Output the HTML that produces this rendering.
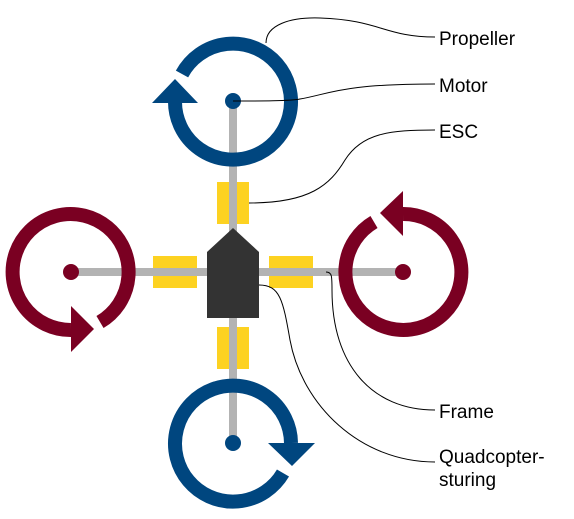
<!DOCTYPE html>
<html><head><meta charset="utf-8"><style>
html,body{margin:0;padding:0;background:#fff;}
svg{display:block;}
text{font-family:"Liberation Sans",sans-serif;font-size:19px;fill:#000;}
</style></head><body>
<svg width="574" height="519" viewBox="0 0 574 519" xmlns="http://www.w3.org/2000/svg">
<g stroke="#b3b3b3" stroke-width="8">
<line x1="233" y1="101" x2="233" y2="443"/>
<line x1="71" y1="272" x2="403" y2="272"/>
</g>
<g fill="#fdd221">
<rect x="217" y="182" width="32" height="42"/>
<rect x="217" y="327" width="32" height="42"/>
<rect x="153" y="256" width="44" height="32"/>
<rect x="269" y="256" width="44" height="32"/>
</g>
<g stroke="#b3b3b3" stroke-width="8">
<line x1="233" y1="180" x2="233" y2="230"/>
<line x1="233" y1="320" x2="233" y2="372"/>
<line x1="150" y1="272" x2="210" y2="272"/>
<line x1="256" y1="272" x2="316" y2="272"/>
</g>
<polygon points="233,228 259,252 259,318 207,318 207,252" fill="#333"/>
<g fill="none" stroke="#00467f" stroke-width="14">
<path d="M175,101 A58,58 0 1,0 182,74"/>
<path d="M283,473 A58,58 0 1,1 291,443"/>
</g>
<polygon points="152,103 198,103 175,79" fill="#00467f"/>
<circle cx="233" cy="101" r="8" fill="#00467f"/>
<polygon points="268,443 315,443 292,466" fill="#00467f"/>
<circle cx="233" cy="443" r="8" fill="#00467f"/>
<g fill="none" stroke="#7a0022" stroke-width="14">
<path d="M71,330 A58,58 0 1,1 100,322"/>
<path d="M403,214 A58,58 0 1,1 374,222"/>
</g>
<polygon points="71,306 71,352 94,329" fill="#7a0022"/>
<circle cx="71" cy="272" r="8" fill="#7a0022"/>
<polygon points="403,191 403,236 380,213" fill="#7a0022"/>
<circle cx="403" cy="272" r="8" fill="#7a0022"/>
<g fill="none" stroke="#000" stroke-width="1">
<path d="M266,43 C266,25 290,17 320,18 C380,20 385,37 435,37"/>
<path d="M233,101 C260,101 290,101 300,99 C330,94 340,84 435,84"/>
<path d="M249,203 C310,203 330,185 345,160 C362,133 390,130 435,130"/>
<path d="M326,272 C332,272 332,276 332,290 C332,365 372,410 435,410"/>
<path d="M259,285 C280,285 283,300 290,340 C302,405 360,462 435,462"/>
</g>
<text x="439" y="45">Propeller</text>
<text x="439" y="92">Motor</text>
<text x="439" y="138">ESC</text>
<text x="439" y="418">Frame</text>
<text x="439" y="463">Quadcopter-</text>
<text x="439" y="486">sturing</text>
</svg>
</body></html>
